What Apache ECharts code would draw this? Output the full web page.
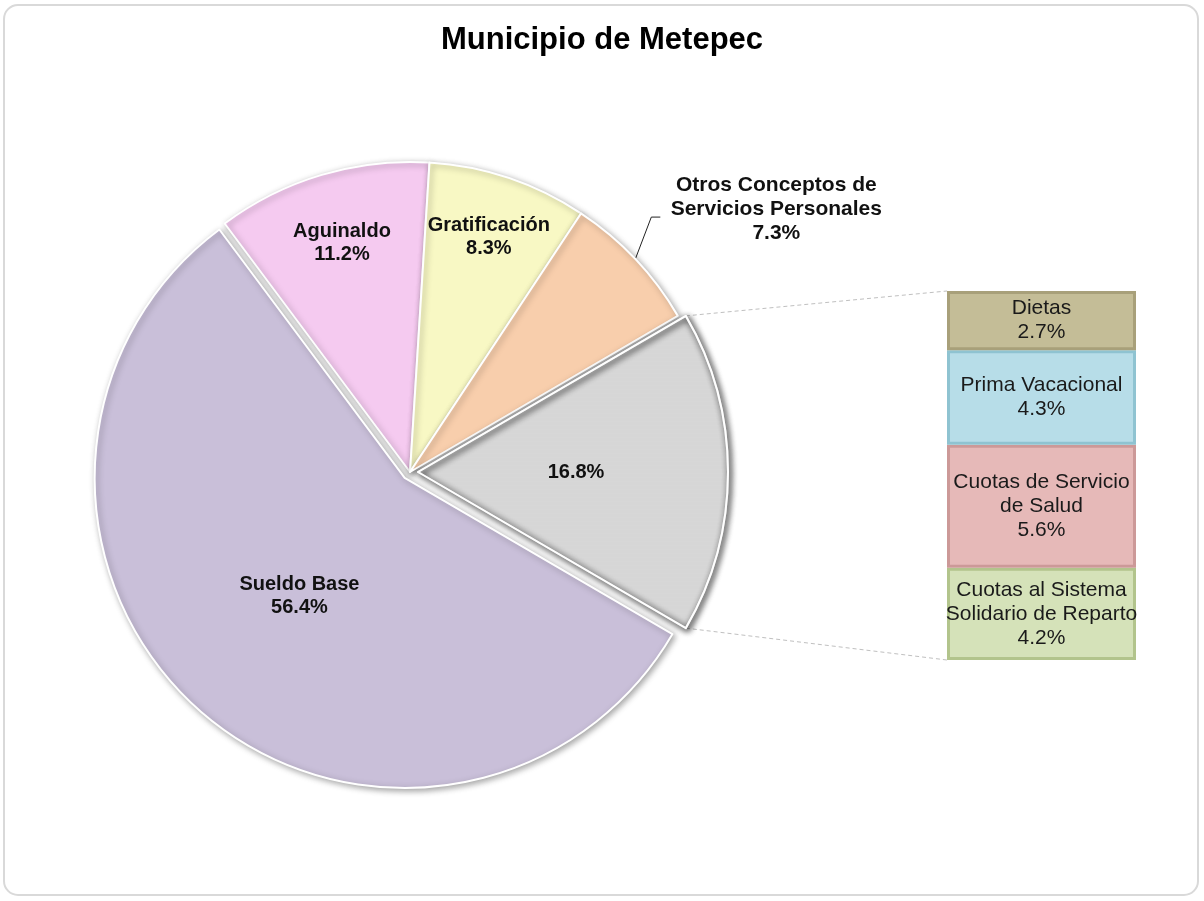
<!DOCTYPE html>
<html><head><meta charset="utf-8">
<script src="https://cdn.jsdelivr.net/npm/echarts@6/dist/echarts.min.js"></script>
<style>html,body{margin:0;padding:0;background:#fff}#c{width:1204px;height:901px}</style>
</head><body><div id="c"></div>
<script>
// ---- data ----
const titleText = 'Municipio de Metepec';
const pieNames = ['Sueldo Base', 'Aguinaldo', 'Gratificación', 'Otros Conceptos de\nServicios Personales'];
const pieValues = [56.4, 11.2, 8.3, 7.3];
const barNames = ['Dietas', 'Prima Vacacional', 'Cuotas de Servicio\nde Salud', 'Cuotas al Sistema\nSolidario de Reparto'];
const barValues = [2.7, 4.3, 5.6, 4.2];

// ---- layout / style ----
const FONT = "'Liberation Sans', Arial, sans-serif";
const CX = 410, CY = 472, R = 310, OFF = 8;
const GRID = {left: 947, top: 291, width: 189, height: 369};
const pieColors = ['#C9BFD9', '#F5CAF0', '#F8F8C4', '#F8CEAC'];
const otherColor = '#D9D9D9';
const barColors = ['#C4BD97', '#B7DDE8', '#E6B9B8', '#D5E2B9'];
const barBorders = ['#A8A07A', '#8FC3D1', '#CC9998', '#B2C48C'];
// label radial position (fraction of radius) for inside labels: other, Sueldo, Aguinaldo, Gratif
const labelFrac = [0.70, 0.50, 0.77, 0.80];

const otherValue = Math.round(barValues.reduce((a, b) => a + b, 0) * 10) / 10;
const total = pieValues.reduce((a, b) => a + b, 0) + otherValue;
const startAngle = otherValue / total * 360 / 2;

// pie data order (clockwise from startAngle): other, Sueldo, Aguinaldo, Gratificación, Otros
const pieOrderVals = [otherValue].concat(pieValues);
const midAngles = [];
(function () {
  let a = startAngle;
  pieOrderVals.forEach(v => {
    const span = v / total * 360;
    midAngles.push(a - span / 2);
    a -= span;
  });
})();
const selectedIdx = [0, 1];

const pieData = [{
  name: '', value: otherValue, selected: true,
  itemStyle: {color: otherColor, decal: {symbol: 'circle', symbolSize: 0.5, dashArrayX: [[1, 0], [1, 0]], dashArrayY: [2, 2], color: 'rgba(255,255,255,0.35)'}},
  label: {formatter: p => p.value.toFixed(1) + '%'}
}];
pieNames.forEach((n, i) => {
  const d = {name: n, value: pieValues[i], itemStyle: {color: pieColors[i]}};
  if (i === 0) d.selected = true;
  if (i === 3) {
    d.label = {position: 'outside', fontSize: 21, lineHeight: 24};
    d.labelLine = {show: true, lineStyle: {color: '#222', width: 1}};
  }
  pieData.push(d);
});

function rad(a) { return a * Math.PI / 180; }

const chart = echarts.init(document.getElementById('c'));
const barSeries = [];
for (let i = barNames.length - 1; i >= 0; i--) {
  barSeries.push({
    type: 'bar', name: barNames[i], stack: 'b', barWidth: '100%',
    data: [barValues[i]],
    itemStyle: {color: barColors[i], borderColor: barBorders[i], borderWidth: 3},
    label: {show: true, position: 'inside', fontFamily: FONT, fontSize: 21, lineHeight: 24, color: '#1a1a1a',
      formatter: p => p.seriesName + '\n' + p.value.toFixed(1) + '%'},
    silent: true
  });
}

chart.setOption({
  animation: false,
  backgroundColor: '#fff',
  title: {text: titleText, left: 'center', top: 20,
    textStyle: {fontFamily: FONT, fontSize: 31, fontWeight: 'bold', color: '#000'}},
  grid: GRID,
  xAxis: {type: 'category', data: ['x'], show: false},
  yAxis: {type: 'value', min: 0, max: otherValue, show: false},
  series: [{
    type: 'pie', center: [CX, CY], radius: R, startAngle: startAngle, clockwise: true,
    selectedMode: 'multiple', selectedOffset: OFF, avoidLabelOverlap: false, silent: true,
    itemStyle: {borderColor: '#fff', borderWidth: 2, shadowBlur: 6, shadowColor: 'rgba(0,0,0,0.35)', shadowOffsetX: 2, shadowOffsetY: 2},
    label: {show: true, position: 'inside', fontFamily: FONT, fontSize: 20, lineHeight: 23, fontWeight: 'bold', color: '#111',
      formatter: p => p.name + '\n' + p.value.toFixed(1) + '%'},
    labelLayout: function (params) {
      const i = params.dataIndex;
      const m = rad(midAngles[i]);
      const off = selectedIdx.indexOf(i) >= 0 ? OFF : 0;
      if (i === 4) {
        const ex = CX + R * Math.cos(m), ey = CY - R * Math.sin(m);
        const p1 = [ex + 16, ey - 42], p2 = [p1[0] + 9, p1[1]];
        return {x: p2[0] + 116, y: p1[1] - 8, align: 'center', verticalAlign: 'middle',
          labelLinePoints: [[ex, ey], p1, p2]};
      }
      const f = labelFrac[i];
      return {x: CX + (R * f + off) * Math.cos(m), y: CY - (R * f + off) * Math.sin(m), align: 'center', verticalAlign: 'middle'};
    },
    data: pieData
  }].concat(barSeries)
});

// connector lines from the "other" slice to the bar
const sa = rad(startAngle);
const topPie = [CX + OFF + R * Math.cos(sa), CY - R * Math.sin(sa)];
const botPie = [CX + OFF + R * Math.cos(sa), CY + R * Math.sin(sa)];
const yTop = chart.convertToPixel({yAxisIndex: 0}, otherValue);
const yBot = chart.convertToPixel({yAxisIndex: 0}, 0);
chart.setOption({
  graphic: [
    {type: 'rect', shape: {x: 4, y: 5, width: 1194, height: 890, r: 14}, style: {fill: 'none', stroke: '#D9D9D9', lineWidth: 2}, silent: true, z: -1},
    {type: 'line', shape: {x1: topPie[0], y1: topPie[1], x2: GRID.left, y2: yTop}, style: {stroke: '#C0C0C0', lineWidth: 1, lineDash: [4, 3]}, silent: true},
    {type: 'line', shape: {x1: botPie[0], y1: botPie[1], x2: GRID.left, y2: yBot}, style: {stroke: '#C0C0C0', lineWidth: 1, lineDash: [4, 3]}, silent: true}
  ]
});
</script>
</body></html>
